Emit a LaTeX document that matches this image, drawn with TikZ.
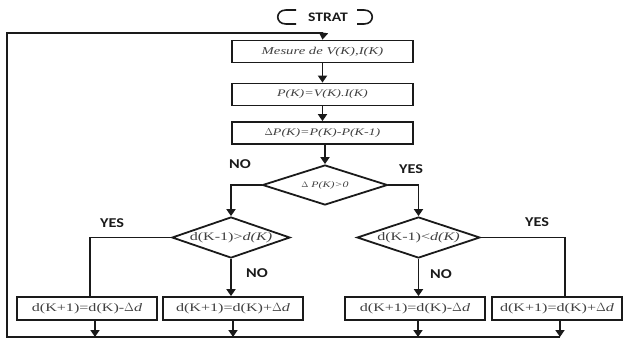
\documentclass[tikz,border=0pt]{standalone}
\usepackage{fontspec}
\usetikzlibrary{shapes.geometric,arrows.meta}
\newfontfamily\boxfont[FakeStretch=1.4]{Liberation Serif}
\newfontfamily\lblfont[FakeStretch=1.2]{Carlito}
\definecolor{linec}{HTML}{1A1A1A}
\definecolor{txtc}{HTML}{404040}
\begin{document}
\begin{tikzpicture}[x=1pt,y=-1pt,
  box/.style={draw=linec, line width=1.8pt, minimum width=#1, minimum height=22pt, inner sep=0pt, text=txtc},
  dia/.style={draw=linec, line width=1.8pt, diamond, aspect=3, inner sep=0pt, text=txtc},
  lbl/.style={font=\lblfont\bfseries\fontsize{13.5}{15}\selectfont, text=linec},
  conn/.style={draw=linec, line width=1.8pt},
  arr/.style={conn, -{Triangle[length=7pt,width=9pt]}}
]
\useasboundingbox (0,0) rectangle (630,341);

% start terminator
\node[font=\lblfont\bfseries\fontsize{13}{15}\selectfont, text=linec] (start) at (328,17) {STRAT};
\draw[conn, line width=1.6pt] (296,10) -- (286,10) .. controls (275,10) and (275,24) .. (286,24) -- (296,24);
\draw[conn, line width=1.6pt] (357,10) -- (364,10) .. controls (375,10) and (375,24) .. (364,24) -- (357,24);

% main column
\node[box=181pt, font=\boxfont\itshape\fontsize{10.5}{12}\selectfont] (m1) at (322.5,51.5) {Mesure de V(K),I(K)};
\node[box=181pt, font=\boxfont\itshape\fontsize{10}{12}\selectfont] (m2) at (322.5,94.5) {P(K)=V(K).I(K)};
\node[box=181pt, font=\boxfont\itshape\fontsize{10}{12}\selectfont] (m3) at (322.5,133) {{\upshape\boxfont $\Delta$}P(K)=P(K)-P(K-1)};

\node[dia, minimum width=125pt, minimum height=40pt, font=\boxfont\fontsize{8.5}{10}\selectfont] (d1) at (325,185) {$\Delta$ \textit{P(K)>0}};
\node[dia, minimum width=118pt, minimum height=41pt, font=\boxfont\fontsize{11.5}{12}\selectfont] (d2) at (231,237.5) {d(K-1)>\textit{d(K)}};
\node[dia, minimum width=123pt, minimum height=41pt, font=\boxfont\fontsize{11.5}{12}\selectfont] (d3) at (418.5,237.5) {d(K-1)<\textit{d(K)}};

\node[box=140pt, minimum height=23pt, font=\boxfont\fontsize{11.5}{12}\selectfont] (b4) at (87,308.5) {d(K+1)=d(K)-$\Delta$\textit{d}};
\node[box=140pt, minimum height=23pt, font=\boxfont\fontsize{11.5}{12}\selectfont] (b5) at (233,308.5) {d(K+1)=d(K)+$\Delta$\textit{d}};
\node[box=140pt, minimum height=23pt, font=\boxfont\fontsize{11.5}{12}\selectfont] (b6) at (415,308.5) {d(K+1)=d(K)-$\Delta$\textit{d}};
\node[box=130pt, minimum height=23pt, font=\boxfont\fontsize{11.5}{12}\selectfont] (b7) at (557,308.5) {d(K+1)=d(K)+$\Delta$\textit{d}};

% labels
\node[lbl] (no1) at (240,164) {NO};
\node[lbl] (yes1) at (411,169) {YES};
\node[lbl] (yes2) at (112,223) {YES};
\node[lbl] (no2) at (257,273) {NO};
\node[lbl] (no3) at (441,274) {NO};
\node[lbl] (yes3) at (537,222) {YES};

% coordinates of the feedback loop
\coordinate (tl) at (7,33);
\coordinate (bl) at (7,337);
\coordinate (br) at (560,337);

% connectors
\draw[arr] (m1) -- (m2);
\draw[arr] (m2) -- (m3);
\draw[arr] (m3.south -| d1.north) -- (d1.north);
\draw[arr] (d1.west) -| (d2.north);
\draw[arr] (d1.east) -| (d3.north);
\draw[conn] (d2.west) -| ([xshift=3pt]b4.north);
\draw[arr] (d2.south) -- (d2.south |- b5.north);
\draw[arr] (d3.south) -- (d3.south |- b6.north);
\draw[conn] (d3.east) -| ([xshift=8pt]b7.north);

\draw[arr] ([xshift=8pt]b4.south) -- ([xshift=8pt]b4.south |- bl);
\draw[arr] (b5.south) -- (b5.south |- bl);
\draw[arr] ([xshift=3pt]b6.south) -- ([xshift=3pt]b6.south |- bl);
\draw[arr] ([xshift=3pt]b7.south) -- (br);
\draw[conn] (br) -- (bl) -- (tl) -- (tl -| m1.north);
\draw[arr] ([xshift=0.9pt]tl -| m1.north) -- (m1.north);
\end{tikzpicture}
\end{document}
